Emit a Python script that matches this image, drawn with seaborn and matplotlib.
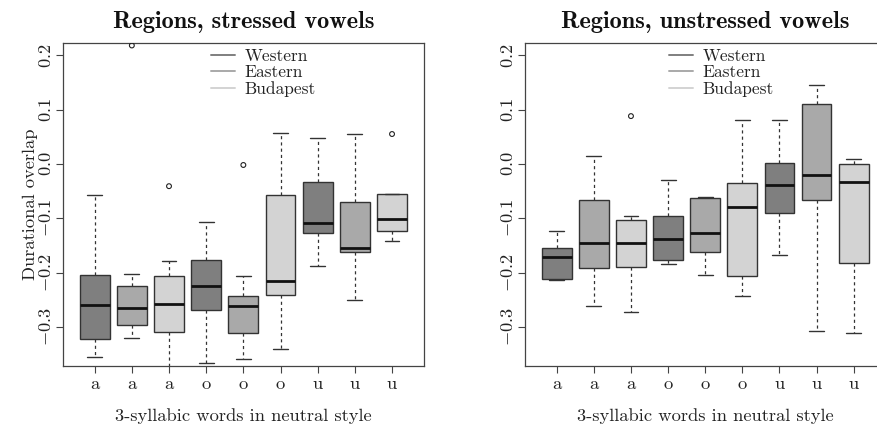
import numpy as np
import pandas as pd
import matplotlib
matplotlib.use("Agg")
import matplotlib.pyplot as plt
import seaborn as sns
from matplotlib.lines import Line2D

# ---------------- data ----------------
vowels = ["a", "a", "a", "o", "o", "o", "u", "u", "u"]
regions = ["Western", "Eastern", "Budapest"]
region_colors = ["#7f7f7f", "#a9a9a9", "#d3d3d3"]

# five-number summaries per box: low whisker, Q1, median, Q3, high whisker
stressed_low = [-0.355, -0.320, -0.400, -0.366, -0.360, -0.340, -0.188, -0.250, -0.142]
stressed_q1 = [-0.322, -0.297, -0.309, -0.269, -0.312, -0.241, -0.128, -0.163, -0.124]
stressed_med = [-0.260, -0.265, -0.257, -0.224, -0.261, -0.216, -0.108, -0.154, -0.101]
stressed_q3 = [-0.205, -0.225, -0.206, -0.176, -0.243, -0.058, -0.034, -0.070, -0.056]
stressed_high = [-0.057, -0.203, -0.179, -0.107, -0.207, 0.056, 0.047, 0.055, -0.056]
stressed_out_pos = [2, 3, 5, 9]
stressed_out_val = [0.218, -0.041, -0.002, 0.055]

unstressed_low = [-0.214, -0.261, -0.273, -0.185, -0.205, -0.244, -0.168, -0.308, -0.312]
unstressed_q1 = [-0.211, -0.191, -0.190, -0.177, -0.163, -0.207, -0.090, -0.067, -0.183]
unstressed_med = [-0.171, -0.145, -0.146, -0.138, -0.127, -0.079, -0.038, -0.020, -0.034]
unstressed_q3 = [-0.154, -0.066, -0.103, -0.095, -0.063, -0.036, 0.002, 0.111, 0.000]
unstressed_high = [-0.123, 0.014, -0.096, -0.030, -0.060, 0.080, 0.080, 0.146, 0.009]
unstressed_out_pos = [3]
unstressed_out_val = [0.088]

y_ticks = [-0.3, -0.2, -0.1, 0.0, 0.1, 0.2]
y_tick_labels = [r"$-0.3$", r"$-0.2$", r"$-0.1$", r"$0.0$", r"$0.1$", r"$0.2$"]
titles = ["Regions, stressed vowels", "Regions, unstressed vowels"]
x_label = "3-syllabic words in neutral style"
y_label = "Durational overlap"

# ---------------- style ----------------
sns.set_style("ticks")
plt.rcParams["font.family"] = ["cmr10", "DejaVu Serif"]
plt.rcParams["mathtext.fontset"] = "cm"
plt.rcParams["axes.unicode_minus"] = False
plt.rcParams["axes.formatter.use_mathtext"] = True

EDGE = "#333333"
AXC = "#444444"
TXT = "#222222"
FS = 13.3

fig = plt.figure(figsize=(8.78, 4.34), dpi=100)
W, H = 878.0, 434.0
ax1 = fig.add_axes([62.7 / W, 1 - 366 / H, 361.3 / W, 322.7 / H])
ax2 = fig.add_axes([524.8 / W, 1 - 366 / H, 360.8 / W, 322.7 / H])


def panel(ax, low, q1, med, q3, high, out_pos, out_val, title, show_ylabel, leg_x):
    rows = []
    for i in range(len(vowels)):
        for v in (low[i], q1[i], med[i], q3[i], high[i]):
            rows.append({"pos": i + 1, "region": regions[i % 3], "value": v})
    df = pd.DataFrame(rows)
    sns.boxplot(
        data=df, x="pos", y="value", hue="region", hue_order=regions,
        palette=region_colors, dodge=False, native_scale=True, width=0.8,
        whis=(0, 100), saturation=1, linecolor=EDGE, linewidth=1.0,
        legend=False, ax=ax,
        medianprops=dict(color="#111111", linewidth=2.0, solid_capstyle="butt"),
        whiskerprops=dict(color=EDGE, linewidth=0.9, linestyle=(0, (2.5, 2.5))),
        capprops=dict(color=EDGE, linewidth=1.0),
        capwidths=0.4,
    )
    sns.scatterplot(x=out_pos, y=out_val, marker="o", s=12, facecolors="none",
                    edgecolor=TXT, linewidth=0.8, ax=ax, zorder=5)

    ax.set_xlim(0.14, 9.86)
    ax.set_ylim(-0.372, 0.222)
    ax.set_xticks(range(1, len(vowels) + 1))
    ax.set_xticklabels(vowels, fontsize=FS, color=TXT)
    ax.set_yticks(y_ticks)
    ax.set_yticklabels(y_tick_labels, fontsize=FS, color=TXT, rotation=90, va="center")
    ax.tick_params(axis="both", length=5, width=0.8, color=AXC, pad=3)
    ax.tick_params(axis="y", pad=1)
    for s in ax.spines.values():
        s.set_visible(True)
        s.set_color(AXC)
        s.set_linewidth(0.9)
    ax.set_title(title, fontsize=17.5, family="cmb10", color="#111111", pad=11)
    ax.set_xlabel(x_label, fontsize=FS, color=TXT, labelpad=11)
    if show_ylabel:
        ax.set_ylabel(y_label, fontsize=FS, color=TXT, labelpad=0)
    else:
        ax.set_ylabel("")
    handles = [Line2D([0], [0], color=c, lw=1.4) for c in region_colors]
    ax.legend(handles, regions, loc="upper left", bbox_to_anchor=(leg_x, 0.995),
              frameon=False, fontsize=12.5, handlelength=1.4, handletextpad=0.55,
              labelspacing=0.05, borderpad=0.2, borderaxespad=0.0,
              labelcolor=TXT)


panel(ax1, stressed_low, stressed_q1, stressed_med, stressed_q3, stressed_high,
      stressed_out_pos, stressed_out_val, titles[0], True, 0.40)
panel(ax2, unstressed_low, unstressed_q1, unstressed_med, unstressed_q3, unstressed_high,
      unstressed_out_pos, unstressed_out_val, titles[1], False, 0.39)

fig.savefig("out.png", dpi=100)
